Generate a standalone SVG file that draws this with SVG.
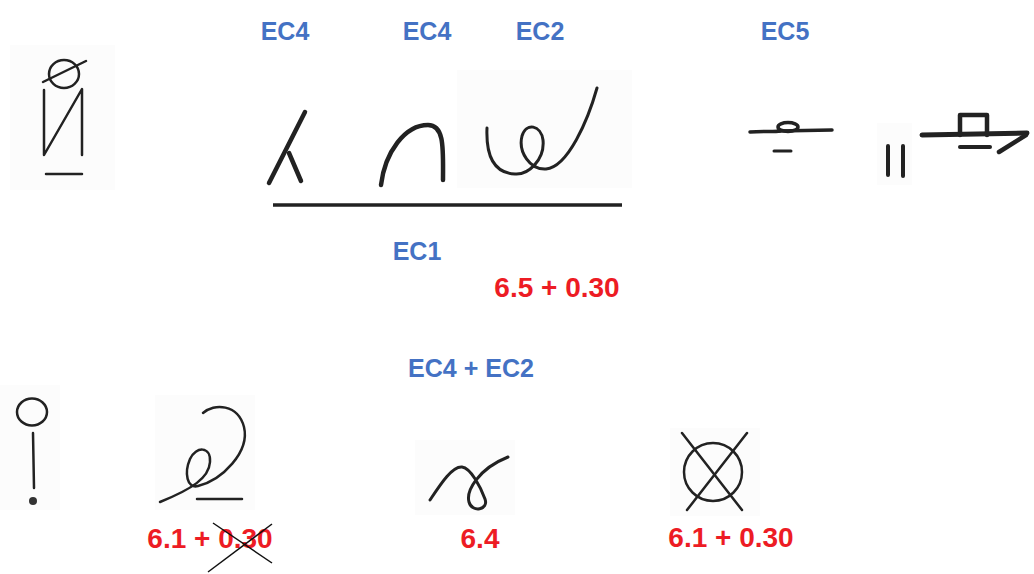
<svg xmlns="http://www.w3.org/2000/svg" width="1034" height="574" viewBox="0 0 1034 574">
<style>
.lbl{font-family:"Liberation Sans",Arial,sans-serif;font-weight:bold;font-size:25px;fill:#4472C4;text-anchor:middle}
.num{font-family:"Liberation Sans",Arial,sans-serif;font-weight:bold;font-size:28px;fill:#ED1C24;text-anchor:middle}
.ink{fill:none;stroke:#222;stroke-linecap:round;stroke-linejoin:round}
.scan{fill:#fcfcfc}
</style>
<rect width="1034" height="574" fill="#fff"/>
<g id="scans">
<rect class="scan" x="10" y="45" width="105" height="145"/>
<rect class="scan" x="457" y="70" width="175" height="118"/>
<rect class="scan" x="877" y="123" width="35" height="62"/>
<rect class="scan" x="0" y="385" width="60" height="125"/>
<rect class="scan" x="155" y="395" width="100" height="115"/>
<rect class="scan" x="415" y="440" width="100" height="75"/>
<rect class="scan" x="670" y="428" width="90" height="88"/>
</g>
<g id="glyph-topleft" class="ink" stroke="#555" stroke-width="2.5">
<ellipse cx="64" cy="74" rx="15" ry="14"/>
<line x1="43" y1="82" x2="86" y2="61" stroke="#222"/>
<polyline points="44,90 44,155 82,89 82,155"/>
<line x1="46" y1="174" x2="82" y2="174"/>
</g>
<g id="labels-top">
<text class="lbl" x="285" y="40">EC4</text>
<text class="lbl" x="427" y="40">EC4</text>
<text class="lbl" x="540" y="40">EC2</text>
<text class="lbl" x="785" y="40">EC5</text>
</g>
<g id="glyph-ec4a" class="ink" stroke="#111" stroke-width="4.5">
<line x1="305" y1="112" x2="269" y2="183"/>
<line x1="289" y1="153" x2="301" y2="181"/>
</g>
<g id="glyph-ec4b" class="ink" stroke="#111" stroke-width="4.5">
<path d="M381,185 C385,152 405,125 428,125 C445,125 443,150 443,180"/>
</g>
<g id="glyph-ec2" class="ink" stroke="#444" stroke-width="3">
<path d="M487,128 C486,152 492,173 515,174 C528,175 545,160 543,140 C541,125 526,122 522,136 C518,152 530,170 546,169 C568,167 588,120 597,88"/>
</g>
<line id="ec1-bar" x1="273" y1="205" x2="622" y2="205" stroke="#222" stroke-width="3.5"/>
<text class="lbl" x="417" y="260">EC1</text>
<text class="num" x="557" y="297">6.5 + 0.30</text>
<g id="glyph-ec5a" class="ink" stroke="#111" stroke-width="3.5">
<path d="M750,132 C765,131 775,132 780,131"/>
<ellipse cx="788" cy="127" rx="10" ry="4.5"/>
<line x1="778" y1="131" x2="832" y2="130"/>
<line x1="774" y1="151" x2="791" y2="151" stroke-width="3"/>
</g>
<g id="equals-sign" class="ink" stroke="#333" stroke-width="4" stroke-linecap="butt">
<line x1="888" y1="146" x2="888" y2="175"/>
<line x1="903" y1="146" x2="903" y2="176"/>
</g>
<g id="glyph-ec5b" class="ink" stroke="#111" stroke-width="5" stroke-linecap="butt">
<line x1="922" y1="135" x2="1027" y2="133"/>
<path d="M960,135 L960,115 L987,115 L987,135" stroke-width="4.5"/>
<line x1="960" y1="147" x2="990" y2="147" stroke-width="4"/>
<line x1="1026" y1="135" x2="999" y2="152" stroke-width="4.5" stroke-linecap="round"/>
</g>
<text class="lbl" x="471" y="377">EC4 + EC2</text>
<g id="glyph-bottom1" class="ink" stroke="#333" stroke-width="2.5">
<ellipse cx="32" cy="412" rx="15" ry="13.5"/>
<line x1="33" y1="433" x2="34" y2="488"/>
<circle cx="33" cy="501" r="4" fill="#333" stroke="none"/>
</g>
<g id="glyph-bottom2" class="ink" stroke="#333" stroke-width="2.5">
<path d="M203,413 C214,403 238,404 244,427 C250,452 222,480 198,486 C187,489 184,473 190,459 C196,446 211,446 210,462 C209,478 192,489 160,502"/>
<line x1="197" y1="499" x2="242" y2="499"/>
</g>
<text class="num" x="210" y="548">6.1 + 0.30</text>
<g id="strike" stroke="#111" stroke-width="1.5">
<line x1="208" y1="572" x2="272" y2="524"/>
<line x1="213" y1="523" x2="272" y2="563"/>
</g>
<g id="glyph-bottom3" class="ink" stroke="#333" stroke-width="3">
<path d="M430,500 C440,485 452,466 462,467 C471,468 481,488 485,499 C489,510 472,513 469,502 C466,491 478,469 508,457"/>
</g>
<text class="num" x="480" y="548">6.4</text>
<g id="glyph-bottom4" class="ink" stroke="#333" stroke-width="2.5">
<circle cx="713" cy="472" r="29"/>
<line x1="682" y1="433" x2="742" y2="510"/>
<line x1="747" y1="433" x2="687" y2="510"/>
</g>
<text class="num" x="731" y="547">6.1 + 0.30</text>
</svg>
